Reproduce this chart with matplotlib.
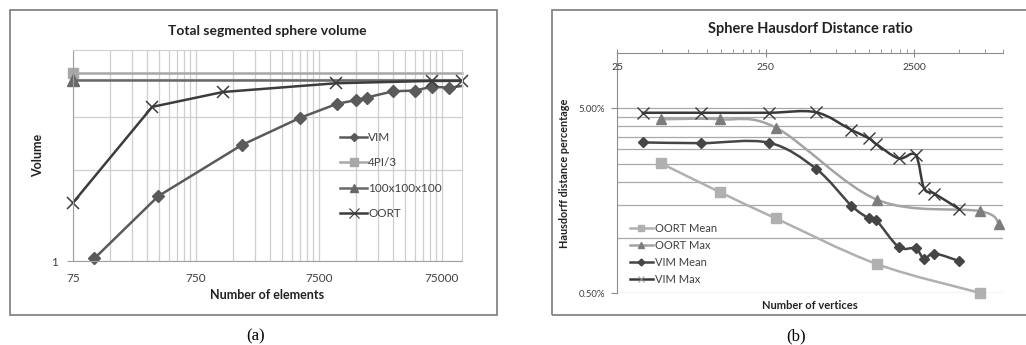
import numpy as np
import matplotlib
matplotlib.use("Agg")
import matplotlib.pyplot as plt
from matplotlib.path import Path
from matplotlib.patches import PathPatch, Rectangle
from matplotlib.lines import Line2D
from matplotlib.ticker import FixedLocator, NullFormatter, FuncFormatter

plt.rcParams['font.family'] = ['Lato', 'DejaVu Sans']

# (a) total segmented sphere volume
vim_el = [112, 370, 1760, 5260, 10570, 15000, 18300, 30100, 45200, 62500, 86000, 109000]
vim_vol = [1.02, 1.64, 2.42, 2.98, 3.32, 3.41, 3.48, 3.65, 3.67, 3.78, 3.75, 3.80]
oort_el = [75, 330, 1245, 10300, 62200, 109000]
oort_vol = [1.56, 3.24, 3.63, 3.88, 3.95, 3.95]
ref_el = [75, 109000]
sphere_vol = [4.19, 4.19]
grid_vol = [3.99, 3.99]
vol_xticks = [75, 750, 7500, 75000]

# (b) sphere hausdorf distance ratio (percent)
vim_vert = [37, 92, 262, 545, 945, 1245, 1390, 1970, 2560, 2920, 3430, 5020]
vim_max = [4.73, 4.73, 4.73, 4.76, 3.82, 3.44, 3.21, 2.68, 2.80, 1.85, 1.73, 1.43]
vim_mean = [3.27, 3.24, 3.26, 2.36, 1.49, 1.27, 1.245, 0.89, 0.875, 0.77, 0.82, 0.748]
oort_vert = [49.4, 123, 293, 1416, 6950, 9330]
oort_max = [4.36, 4.36, 3.93, 1.60, 1.39, 1.19]
oort_mean = [2.52, 1.76, 1.27, 0.718, 0.503]
hd_xticks = [25, 250, 2500]


def smooth_line(ax, xs, ys, color, lw):
    # excel-like smoothed line, bezier through the points in log-log space
    pts = np.column_stack([np.log10(xs), np.log10(ys)])
    n = len(pts)
    verts = [pts[0]]
    codes = [Path.MOVETO]
    for i in range(n - 1):
        p0 = pts[max(i - 1, 0)]
        p1 = pts[i]
        p2 = pts[i + 1]
        p3 = pts[min(i + 2, n - 1)]
        verts += [p1 + (p2 - p0) / 6, p2 - (p3 - p1) / 6, p2]
        codes += [Path.CURVE4] * 3
    verts = 10 ** np.array(verts)
    ax.add_patch(PathPatch(Path(verts, codes), fill=False, edgecolor=color, lw=lw,
                           capstyle='round', joinstyle='round'))


fig = plt.figure(figsize=(10.26, 3.45), dpi=100)
W, H = 1026.0, 345.0

# outer frames
fig.patches.append(Rectangle((10 / W, 1 - 315 / H), 487 / W, 305 / H, transform=fig.transFigure,
                             fill=False, edgecolor='#7c7c7c', lw=1.2))
fig.patches.append(Rectangle((552 / W, 1 - 315 / H), 480 / W, 305 / H, transform=fig.transFigure,
                             fill=False, edgecolor='#7c7c7c', lw=1.2))

# ---------------- (a)
ax1 = fig.add_axes([73 / W, 1 - 261 / H, 389 / W, 211 / H])
ax1.set_xscale('log')
ax1.set_yscale('log')
ax1.set_xlim(75, 109000)
ax1.set_ylim(1, 5)
ax1.xaxis.set_major_locator(FixedLocator(vol_xticks))
ax1.xaxis.set_major_formatter(FuncFormatter(lambda v, p: f"{v:.0f}"))
ax1.xaxis.set_minor_locator(FixedLocator([75 * 10 ** d * k for d in range(4) for k in range(2, 10)]))
ax1.xaxis.set_minor_formatter(NullFormatter())
ax1.yaxis.set_major_locator(FixedLocator([1]))
ax1.yaxis.set_major_formatter(FuncFormatter(lambda v, p: f"{v:.0f}"))
ax1.yaxis.set_minor_locator(FixedLocator([2, 3, 4]))
ax1.yaxis.set_minor_formatter(NullFormatter())
ax1.grid(True, which='both', color='#cfcfcf', lw=0.9)
ax1.set_axisbelow(True)
ax1.tick_params(axis='x', which='both', length=0, pad=9, labelsize=8.5, colors='#404040')
ax1.tick_params(axis='y', which='major', length=4, color='#a0a0a0', pad=7, labelsize=8.5,
                labelcolor='#404040')
ax1.tick_params(axis='y', which='minor', length=0)
for s in ['top', 'right']:
    ax1.spines[s].set_color('#d0d0d0')
for s in ['left', 'bottom']:
    ax1.spines[s].set_color('#a0a0a0')

ax1.plot(ref_el, sphere_vol, color='#a8a8a8', lw=1.8, marker='s', ms=7.5, markevery=[0], clip_on=False)
ax1.plot(ref_el, grid_vol, color='#686868', lw=1.8, marker='^', ms=8, markevery=[0], clip_on=False)
ax1.plot(vim_el, vim_vol, color='#5a5a5a', lw=1.8, marker='D', ms=6,
         markevery=list(range(len(vim_el) - 1)), clip_on=False)
ax1.plot(oort_el, oort_vol, color='#3c3c3c', lw=1.8, marker='x', ms=9, mew=1.1, clip_on=False)

ax1.set_title('Total segmented sphere volume', fontsize=10, fontweight='bold', color='#222222', pad=11)
ax1.set_xlabel('Number of elements', fontsize=9, fontweight='bold', color='#222222', labelpad=3)
ax1.set_ylabel('Volume', fontsize=9, fontweight='bold', color='#222222', labelpad=5)

h1 = [Line2D([], [], color='#5a5a5a', lw=1.8, marker='D', ms=4),
      Line2D([], [], color='#a8a8a8', lw=1.8, marker='s', ms=6),
      Line2D([], [], color='#686868', lw=1.8, marker='^', ms=6),
      Line2D([], [], color='#3c3c3c', lw=1.8, marker='x', ms=7, mew=0.8)]
ax1.legend(h1, ['VIM', '4PI/3', '100x100x100', 'OORT'], loc='upper left',
           bbox_to_anchor=(340 / W, 1 - 132 / H), bbox_transform=fig.transFigure,
           frameon=False, fontsize=8.5, handlelength=2.3, handletextpad=0.1,
           labelspacing=1.22, borderpad=0, borderaxespad=0, labelcolor='#404040')

fig.text(256 / W, 1 - 336 / H, '(a)', family='Liberation Serif', fontsize=12, ha='center', va='center')

# ---------------- (b)
ax2 = fig.add_axes([617.3 / W, 1 - 293.3 / H, 386 / W, 240.7 / H])
ax2.set_xscale('log')
ax2.set_yscale('log')
ax2.set_xlim(25, 10000)
ax2.set_ylim(0.5, 10)
ax2.xaxis.set_major_locator(FixedLocator(hd_xticks))
ax2.xaxis.set_minor_locator(FixedLocator([25 * 10 ** d * k for d in range(3) for k in range(2, 10)]))
ax2.xaxis.set_major_formatter(NullFormatter())
ax2.xaxis.set_minor_formatter(NullFormatter())
ax2.xaxis.tick_top()
ax2.tick_params(axis='x', which='major', direction='inout', length=6, color='#8c8c8c')
ax2.tick_params(axis='x', which='minor', direction='out', length=3, color='#8c8c8c')
for v in hd_xticks:
    ax2.text(v, 1 - 15 / 242.6, f"{v}", transform=ax2.get_xaxis_transform(), ha='center', va='center',
             fontsize=7.5, color='#404040')

ax2.yaxis.set_major_locator(FixedLocator([0.5, 5]))
ax2.yaxis.set_major_formatter(FuncFormatter(lambda v, p: f"{v:.2f}%"))
ax2.yaxis.set_minor_locator(FixedLocator(list(np.arange(1, 5, 0.5))))
ax2.yaxis.set_minor_formatter(NullFormatter())
ax2.tick_params(axis='y', which='major', direction='out', length=4, color='#8c8c8c', pad=5,
                labelsize=7, labelcolor='#404040')
ax2.tick_params(axis='y', which='minor', length=0)
ax2.grid(True, axis='y', which='both', color='#a8a8a8', lw=0.9)
ax2.set_axisbelow(True)
ax2.spines['right'].set_visible(False)
ax2.spines['bottom'].set_visible(False)
ax2.spines['left'].set_color('#8c8c8c')
ax2.spines['top'].set_color('#8c8c8c')

smooth_line(ax2, oort_vert[:len(oort_mean)], oort_mean, '#b0b0b0', 1.8)
smooth_line(ax2, oort_vert, oort_max, '#a4a4a4', 1.8)
smooth_line(ax2, vim_vert, vim_mean, '#454545', 1.8)
smooth_line(ax2, vim_vert, vim_max, '#3a3a3a', 1.8)
ax2.plot(oort_vert[:len(oort_mean)], oort_mean, ls='none', marker='s', ms=6.5, color='#b0b0b0', clip_on=False)
ax2.plot(oort_vert, oort_max, ls='none', marker='^', ms=7, color='#7c7c7c', clip_on=False)
ax2.plot(vim_vert, vim_mean, ls='none', marker='D', ms=5, color='#454545', clip_on=False)
ax2.plot(vim_vert, vim_max, ls='none', marker='x', ms=8, mew=1.0, color='#3a3a3a', clip_on=False)

ax2.set_title('Sphere Hausdorf Distance ratio', fontsize=10.5, fontweight='bold', color='#222222', pad=14)
ax2.set_xlabel('Number of vertices', fontsize=8, fontweight='bold', color='#222222', labelpad=5)
ax2.set_ylabel('Hausdorff distance percentage', fontsize=7.8, fontweight='bold', color='#222222', labelpad=6)

h2 = [Line2D([], [], color='#b0b0b0', lw=1.8, marker='s', ms=5),
      Line2D([], [], color='#a4a4a4', lw=1.8, marker='^', mfc='#7c7c7c', mec='#7c7c7c', ms=5),
      Line2D([], [], color='#454545', lw=1.8, marker='D', ms=3.5),
      Line2D([], [], color='#3a3a3a', lw=1.8, marker='x', ms=5, mew=0.7, mec='#909090')]
ax2.legend(h2, ['OORT Mean', 'OORT Max', 'VIM Mean', 'VIM Max'], loc='upper left',
           bbox_to_anchor=(629.7 / W, 1 - 223 / H), bbox_transform=fig.transFigure,
           frameon=False, fontsize=8, handlelength=2.1, handletextpad=0.15,
           labelspacing=0.53, borderpad=0, borderaxespad=0, labelcolor='#404040')

fig.text(796 / W, 1 - 336 / H, '(b)', family='Liberation Serif', fontsize=12, ha='center', va='center')

fig.savefig('out.png', dpi=100, facecolor='white')
